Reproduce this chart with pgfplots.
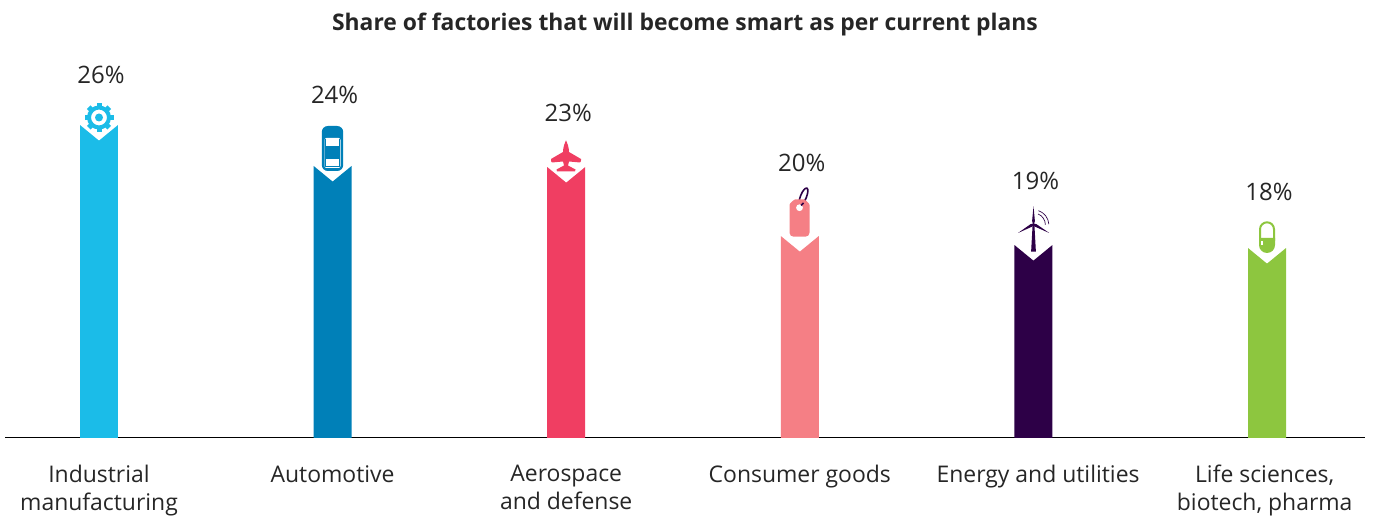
\documentclass[border=0pt]{standalone}
\usepackage{fontspec}
\setmainfont{Open Sans}
\usepackage{pgfplots}
\usepackage{pgfplotstable}
\pgfplotsset{compat=1.18}

\definecolor{cA}{HTML}{1BBCE8}
\definecolor{cB}{HTML}{0080B8}
\definecolor{cC}{HTML}{F03E62}
\definecolor{cD}{HTML}{F57F85}
\definecolor{cE}{HTML}{2D0047}
\definecolor{cF}{HTML}{8DC63F}
\definecolor{txt}{HTML}{262626}

% x = category, ly = height of the label, lab = printed share
\pgfplotstableread{
x ly lab
0 30.25 26
1 28.58 24
2 27.08 23
3 22.92 20
4 21.42 19
5 20.50 18
}\labels

\begin{document}
\begin{tikzpicture}[x=0.75pt,y=0.75pt]
\begin{axis}[
  at={(0,0)},
  anchor=south west,
  width=1020pt,
  height=328.5pt,
  scale only axis,
  clip=false,
  xmin=-0.4024, xmax=5.4195,
  ymin=0, ymax=36.5,
  axis x line=bottom,
  axis y line=none,
  axis line style={-, black, line width=0.75pt},
  xtick={0,1,2,3,4.02,4.99},
  xticklabels={Industrial\\manufacturing,Automotive\\\mbox{},Aerospace\\and defense,Consumer goods\\\mbox{},Energy and utilities\\\mbox{},{Life sciences,\\biotech, pharma}},
  major tick length=0pt,
  xticklabel style={align=center, font=\fontsize{17.2}{21}\selectfont\strut, text=txt, yshift=-17pt, anchor=north},
  title={\textbf{Share of factories that will become smart as per current plans}},
  title style={at={(axis description cs:0.5,1.0)},anchor=center,font=\fontsize{17.15}{20}\selectfont,text=txt,yshift=-24.5pt},
  /pgf/number format/assume math mode=true,
]
\addplot[fill=cA,draw=none] coordinates {(-0.0813,0)(-0.0813,26.08)(0,24.78)(0.0813,26.08)(0.0813,0)} -- cycle;
\addplot[fill=cB,draw=none] coordinates {(0.9187,0)(0.9187,22.67)(1,21.37)(1.0813,22.67)(1.0813,0)} -- cycle;
\addplot[fill=cC,draw=none] coordinates {(1.9187,0)(1.9187,22.58)(2,21.28)(2.0813,22.58)(2.0813,0)} -- cycle;
\addplot[fill=cD,draw=none] coordinates {(2.9187,0)(2.9187,16.83)(3,15.53)(3.0813,16.83)(3.0813,0)} -- cycle;
\addplot[fill=cE,draw=none] coordinates {(3.9187,0)(3.9187,16.08)(4,14.78)(4.0813,16.08)(4.0813,0)} -- cycle;
\addplot[fill=cF,draw=none] coordinates {(4.9187,0)(4.9187,15.83)(5,14.53)(5.0813,15.83)(5.0813,0)} -- cycle;
\addplot[draw=none,mark=none,
  point meta=explicit,
  nodes near coords={\pgfmathprintnumber{\pgfplotspointmeta}\%},
  every node near coord/.style={anchor=center,font=\fontsize{18}{20}\selectfont,text=txt,inner sep=0pt,xshift=1.5pt},
] table[x=x,y=ly,meta=lab] {\labels};
\end{axis}

% gear
\begin{scope}[shift={(94,313)}]
  \foreach \a in {0,45,...,315}
    \fill[cA,rotate around={\a:(0,7.5)}] (-2.5,17) rectangle (2.5,22);
  \draw[cA,line width=3pt] (0,7.5) circle (10);
  \fill[cA] (0,7.5) circle (4);
\end{scope}

% car
\begin{scope}[shift={(327.5,272)}]
  \fill[cB,rounded corners=4.5pt] (-10.7,-5) rectangle (10.7,40);
  \fill[white,rounded corners=1.5pt] (-8,-2) rectangle (8,28);
  \fill[cB] (-7.2,-1) rectangle (7.2,27);
  \fill[white] (-6.4,0) rectangle (6.4,7);
  \fill[white] (-6.4,20) rectangle (6.4,27);
\end{scope}

% plane
\begin{scope}[shift={(561,271)}]
  \fill[cC] (0,26.7) .. controls (1.2,24) and (3,20) .. (3,15) -- (15,8) .. controls (15.3,6.5) and (15,5) .. (14,4.5)
    -- (3,5.5) -- (2,1.5) -- (9.5,-2.5) -- (9,-4.3) -- (-9,-4.3) -- (-9.5,-2.5) -- (-2,1.5) -- (-3,5.5)
    -- (-14,4.5) .. controls (-15,5) and (-15.3,6.5) .. (-15,8) -- (-3,15) .. controls (-3,20) and (-1.2,24) .. (0,26.7) -- cycle;
\end{scope}

% price tag
\begin{scope}[shift={(794.5,202)}]
  \draw[cE,line width=1.2pt,rotate around={68:(4,39.5)}] (4,39.5) ellipse (9 and 3);
  \fill[cD,rounded corners=3pt] (-10,-0.7) -- (-10,27) .. controls (-10,33) and (-5,36.7) .. (0,36.7)
    .. controls (5,36.7) and (10,33) .. (10,27) -- (10,-0.7) -- cycle;
  \fill[white] (0,28.3) circle (3.4);
  \draw[cE,line width=1.2pt] (1.5,30.5) -- (4,33);
\end{scope}

% wind turbine
\begin{scope}[shift={(1028.5,193)}]
  \fill[cE] (-2.4,-6.7) -- (2.4,-6.7) -- (0.9,20) -- (-0.9,20) -- cycle;
  \fill[cE] (0,38.7) -- (1.4,24) -- (0,19) -- (-1.4,24) -- cycle;
  \fill[cE] (-15.5,12) -- (-3,20.8) -- (0,21.5) -- (0,19) -- cycle;
  \fill[cE] (15.7,12) -- (3,20.8) -- (0,21.5) -- (0,19) -- cycle;
  \draw[cE,line width=0.5pt] (5,34.3) arc[start angle=71,end angle=4,radius=15.4];
  \draw[cE,line width=0.5pt] (4.6,31) arc[start angle=68,end angle=0,radius=11.6];
\end{scope}

% capsule
\begin{scope}[shift={(1262,190)}]
  \draw[cF,line width=1.5pt,fill=white] (-7,8) -- (-7,18.7) arc[start angle=180,end angle=0,radius=7] -- (7,8) -- cycle;
  \fill[cF] (-8,10) -- (8,10) -- (8,3) arc[start angle=0,end angle=-180,radius=8] -- cycle;
  \draw[white,line width=0.8pt] (-5,7) -- (-5,3);
\end{scope}

\pgfresetboundingbox
\path[use as bounding box] (-5,-78) rectangle (1376,438);
\end{tikzpicture}
\end{document}
